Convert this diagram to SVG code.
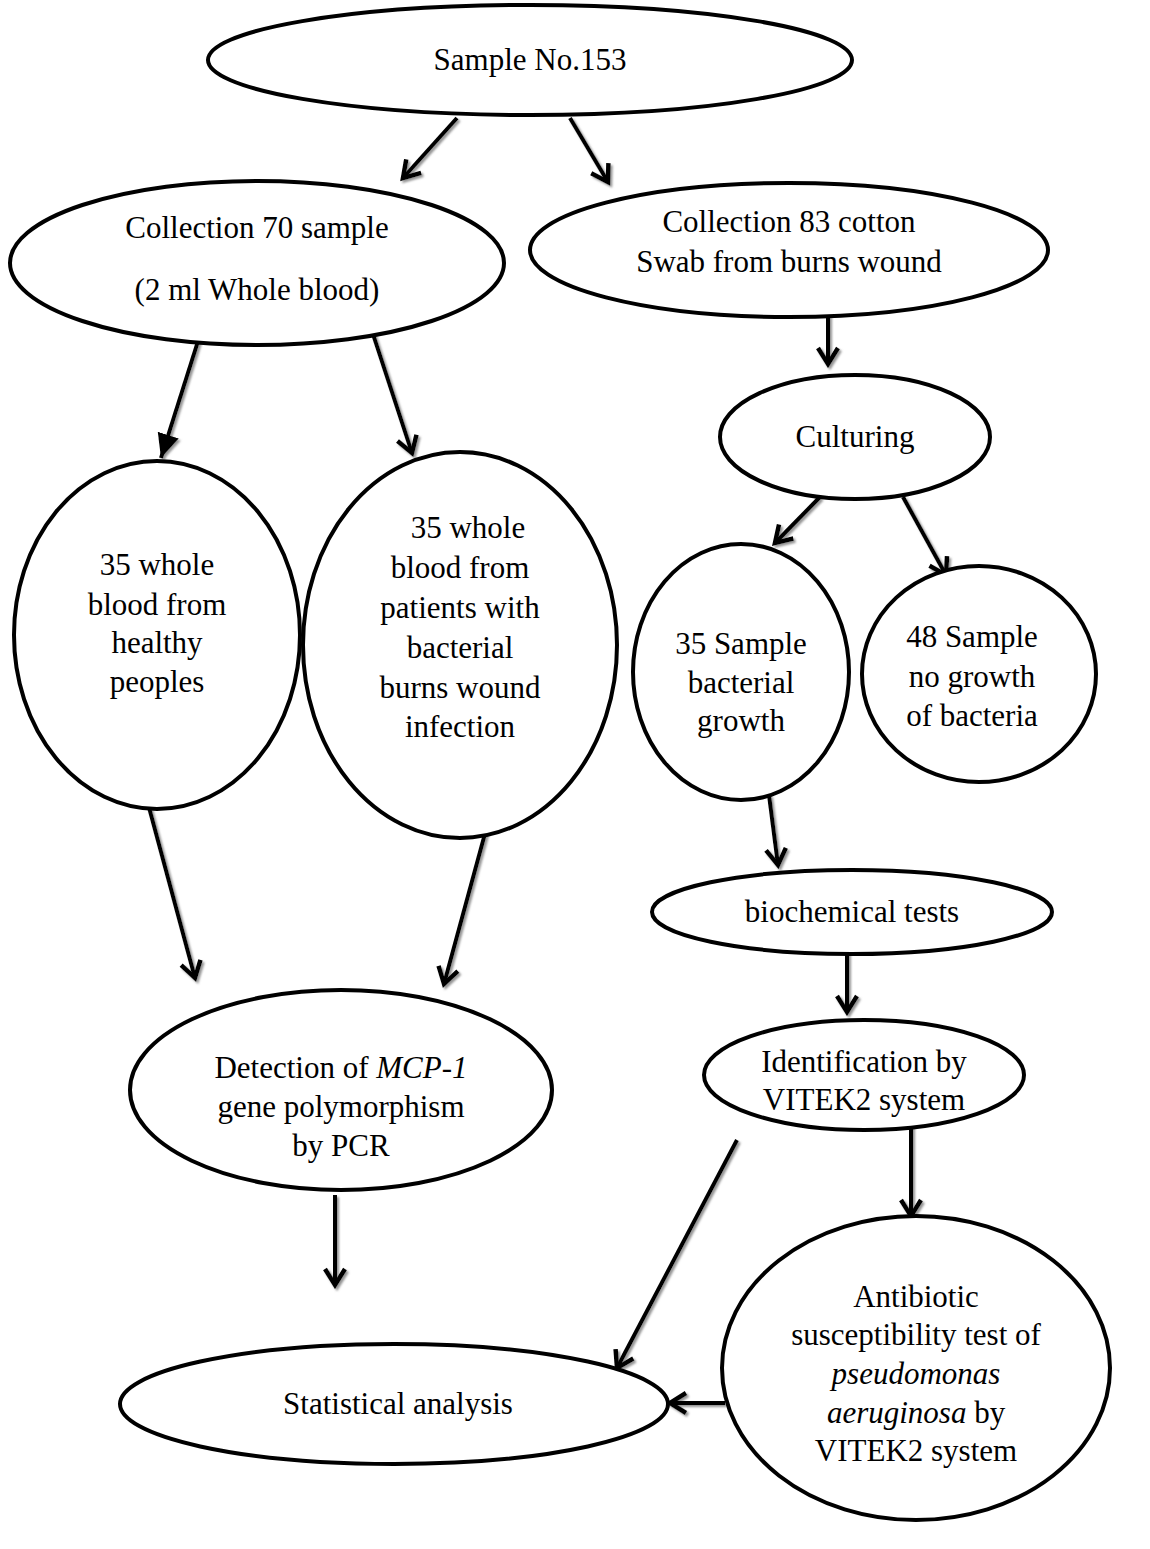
<svg xmlns="http://www.w3.org/2000/svg" width="1150" height="1549" viewBox="0 0 1150 1549">
<style>
.n{fill:#fff;stroke:#000;stroke-width:4}
.t{font-family:"Liberation Serif","Times New Roman",serif;font-size:31px;fill:#000;text-anchor:middle}
.c{fill:none;stroke:#000;stroke-width:4;stroke-linecap:butt}
</style>
<defs>
<marker id="ah" markerUnits="userSpaceOnUse" markerWidth="30" markerHeight="30" refX="22" refY="12" orient="auto" viewBox="0 0 30 24">
<path d="M6,2 L22,12 L6,22" fill="none" stroke="#000" stroke-width="4.5" stroke-linejoin="miter"/>
</marker>
<marker id="ahf" markerUnits="userSpaceOnUse" markerWidth="30" markerHeight="30" refX="24" refY="12" orient="auto" viewBox="0 0 30 24">
<path d="M0,1 L24,12 L0,23 Z" fill="#000"/>
</marker>
<filter id="sh" x="-20%" y="-20%" width="140%" height="140%">
<feDropShadow dx="2" dy="2" stdDeviation="0.8" flood-color="#888" flood-opacity="0.9"/>
</filter>
</defs>
<rect width="1150" height="1549" fill="#fff"/>
<g id="connectors" filter="url(#sh)">
<line class="c" x1="457" y1="118" x2="403" y2="178" marker-end="url(#ah)"/>
<line class="c" x1="570" y1="118" x2="608" y2="182" marker-end="url(#ah)"/>
<line class="c" x1="200" y1="335" x2="161" y2="458" stroke-width="7" marker-end="url(#ahf)"/>
<line class="c" x1="370" y1="325" x2="412" y2="453" marker-end="url(#ah)"/>
<line class="c" x1="828" y1="315" x2="828" y2="364" marker-end="url(#ah)"/>
<line class="c" x1="820" y1="497" x2="775" y2="543" marker-end="url(#ah)"/>
<line class="c" x1="903" y1="497" x2="946" y2="575" marker-end="url(#ah)"/>
<line class="c" x1="769" y1="795" x2="778" y2="865" marker-end="url(#ah)"/>
<line class="c" x1="147" y1="800" x2="195" y2="978" marker-end="url(#ah)"/>
<line class="c" x1="486" y1="830" x2="444" y2="984" marker-end="url(#ah)"/>
<line class="c" x1="847" y1="950" x2="847" y2="1012" marker-end="url(#ah)"/>
<line class="c" x1="911" y1="1125" x2="911" y2="1216" marker-end="url(#ah)"/>
<line class="c" x1="335" y1="1195" x2="335" y2="1285" marker-end="url(#ah)"/>
<line class="c" x1="737" y1="1140" x2="617" y2="1368" marker-end="url(#ah)"/>
<line class="c" x1="725" y1="1403" x2="670" y2="1403" marker-end="url(#ah)"/>
</g>
<g id="n1"><ellipse class="n" cx="530" cy="60" rx="322" ry="55"/><text class="t" x="530" y="70">Sample No.153</text></g>
<g id="n2"><ellipse class="n" cx="257" cy="263" rx="247" ry="82"/><text class="t" x="257" y="238">Collection 70 sample</text><text class="t" x="257" y="300">(2 ml Whole blood)</text></g>
<g id="n3"><ellipse class="n" cx="789" cy="250" rx="259" ry="67"/><text class="t" x="789" y="232">Collection 83 cotton</text><text class="t" x="789" y="272">Swab from burns wound</text></g>
<g id="n4"><ellipse class="n" cx="855" cy="437" rx="135" ry="62"/><text class="t" x="855" y="447">Culturing</text></g>
<g id="n5"><ellipse class="n" cx="157" cy="635" rx="143" ry="174"/><text class="t" x="157" y="575">35 whole</text><text class="t" x="157" y="615">blood from</text><text class="t" x="157" y="653">healthy</text><text class="t" x="157" y="692">peoples</text></g>
<g id="n6"><ellipse class="n" cx="460" cy="645" rx="157" ry="193"/><text class="t" x="468" y="538">35 whole</text><text class="t" x="460" y="578">blood from</text><text class="t" x="460" y="618">patients with</text><text class="t" x="460" y="658">bacterial</text><text class="t" x="460" y="698">burns wound</text><text class="t" x="460" y="737">infection</text></g>
<g id="n7"><ellipse class="n" cx="741" cy="672" rx="108" ry="128"/><text class="t" x="741" y="654">35 Sample</text><text class="t" x="741" y="693">bacterial</text><text class="t" x="741" y="731">growth</text></g>
<g id="n8"><ellipse class="n" cx="979" cy="674" rx="117" ry="108"/><text class="t" x="972" y="647">48 Sample</text><text class="t" x="972" y="687">no growth</text><text class="t" x="972" y="726">of bacteria</text></g>
<g id="n9"><ellipse class="n" cx="852" cy="912" rx="200" ry="42"/><text class="t" x="852" y="922">biochemical tests</text></g>
<g id="n10"><ellipse class="n" cx="864" cy="1075" rx="160" ry="55"/><text class="t" x="864" y="1072">Identification by</text><text class="t" x="864" y="1110">VITEK2 system</text></g>
<g id="n11"><ellipse class="n" cx="341" cy="1090" rx="211" ry="100"/><text class="t" x="341" y="1078">Detection of <tspan font-style="italic">MCP-1</tspan></text><text class="t" x="341" y="1117">gene polymorphism</text><text class="t" x="341" y="1156">by PCR</text></g>
<g id="n12"><ellipse class="n" cx="394" cy="1404" rx="274" ry="60"/><text class="t" x="398" y="1414">Statistical analysis</text></g>
<g id="n13"><ellipse class="n" cx="916" cy="1368" rx="194" ry="152"/><text class="t" x="916" y="1307">Antibiotic</text><text class="t" x="916" y="1345">susceptibility test of</text><text class="t" x="916" y="1384" font-style="italic">pseudomonas</text><text class="t" x="916" y="1423"><tspan font-style="italic">aeruginosa</tspan> by</text><text class="t" x="916" y="1461">VITEK2 system</text></g>
</svg>
